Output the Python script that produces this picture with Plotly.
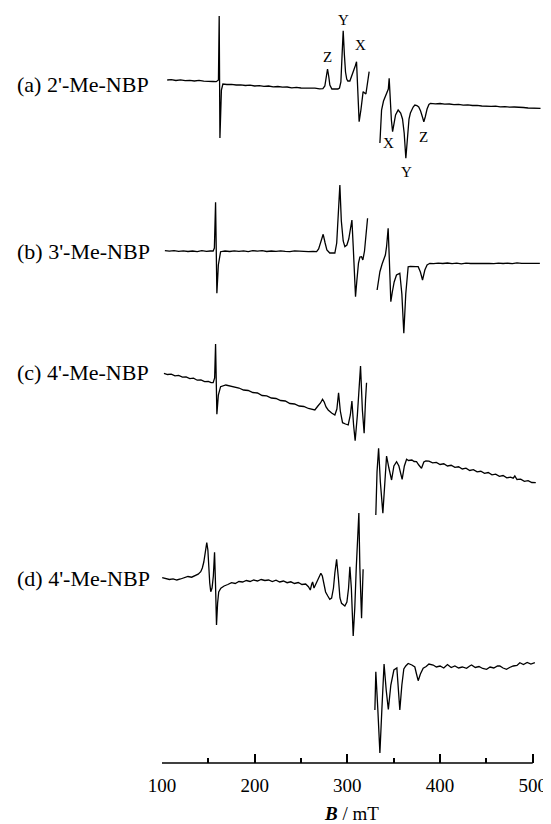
import plotly.graph_objects as go

# ---------------- data (B in mT, signal in arbitrary units) ----------------
a1_B = [105.6, 110, 115, 120, 125, 130, 135, 140, 145, 150, 155, 158.5, 160.9, 161.7, 162.5, 164.1, 165.7,
        170, 175, 180, 185, 190, 195, 200, 205, 210, 215, 220, 225, 230, 235, 240, 245, 250, 255, 260, 265, 270,
        273.6, 275.7, 277.2, 278.6, 280, 281.1, 283.3, 286, 289.8, 291.5, 293, 294.3, 295.5, 296.8, 298, 299.3,
        300.5, 302.7, 304, 306.5, 308.5, 309.9, 311.3, 312.7, 314.6, 317, 320, 321.8, 323.5]
a1_I = [0, 0.3, -0.5, 0.2, -0.6, -0.3, -1, -0.4, -1.2, -1, -1.5, -1.7, 0, 64, -58, -10, -4,
        -4.5, -4.3, -5, -4.8, -5.5, -5.2, -6, -5.7, -6.3, -6, -6.8, -6.5, -7.2, -7, -7.8, -7.4, -8, -7.9, -8.5, -8.2, -8.8,
        -8.7, -6, 1, 11, 3, -5, -9, -9.2, -9, -8, -2, 25, 49.3, 25, 8, 1,
        -1, -1, 2, 8, 14, 18.3, -10, -41.7, -30, -11.7, -14, -4, 8.3]

a2_B = [335.1, 336.0, 336.9, 339, 341, 342.9, 344.2, 345.1, 346.2, 347.5, 348.8, 350.3, 352, 354.8, 357.5, 359.5,
        361.3, 363.1, 364.8, 366.5, 368, 369.3, 371, 372.8, 375, 377, 379, 381, 382.5, 384, 386, 388, 389.7,
        395, 400, 405, 410, 415, 420, 425, 430, 435, 440, 445, 450, 455, 460, 465, 470, 475, 480, 485, 490, 495,
        500, 505, 508.4]
a2_I = [-38, -20, -5, 4, 8, 11.7, 16, 26.7, 5, -15, -26.7, -18, -10, -5, -8, -14,
        -28, -53.3, -30, -14, -8, -5, -2, 0, -0.5, -2, -6, -12, -16.7, -12, -4, 0.5, 1.7,
        1.2, 1.5, 0.8, 1, 0.3, 0.6, -0.2, 0.1, -0.5, -0.3, -1, -0.8, -1.3, -1.2, -1.8, -1.6, -2.2, -2.0, -2.6, -2.5, -3,
        -2.9, -3.4, -3.3]

b1_B = [103.1, 108, 113, 118, 123, 128, 133, 138, 143, 148, 152, 155.2, 156.5, 157.8, 159.2, 160.8, 163.2,
        168, 173, 178, 183, 188, 193, 198, 203, 208, 213, 218, 223, 228, 233, 238, 243, 248, 253, 258, 263, 266.8,
        269, 271, 273.9, 276, 277.9, 281, 286.5, 288.5, 290.3, 291.9, 293.5, 295.5, 297.3, 299.5, 301.5, 303.5,
        304.9, 306.3, 307.6, 308.8, 310.2, 312, 313.5, 315.3, 316.7, 318.5, 320, 321.8]
b1_I = [0.3, -0.2, 0.4, -0.3, 0.2, -0.5, 0, -0.6, 0.3, -0.4, 0, 0, 3, 48.7, -42.3, -14, -0.7,
        0, -0.5, 0.2, -0.3, 0.1, -0.6, 0.4, -0.2, 0.3, -0.5, 0, -0.4, 0.2, -0.3, -0.6, 0.1, -0.4, -0.2, -0.7, -0.5, -0.7,
        2, 8, 16.7, 8, 1, -2, -2, 8, 40, 66, 30, 10, 4.3, 6, 12, 22,
        31, 5, -25, -45.7, -30, -12, -6, -5.7, -9, 0, 15, 32.7]

b2_B = [332.1, 335.1, 337.5, 339.4, 341, 342.3, 344.0, 345.3, 346.9, 348.5, 350.5, 353, 356.6, 358.8, 360.9,
        363, 365.6, 368, 371, 374, 376.4, 378.8, 381.1, 383.6, 386, 389.0, 393, 398, 403, 408, 413, 418, 423,
        428, 433, 438, 443, 448, 453, 458, 463, 468, 473, 478, 483, 488, 493, 498, 503, 507.7]
b2_I = [-26, -7.7, 0, 4, 9, 17.3, 35.7, 4, -37.7, -28, -18, -11, -9.3, -30, -69.3,
        -30, -2.7, -2.4, -2.8, -2.6, -2.7, -8, -16, -6, -1, 0.7, 0.3, 0.9, 0.5, 1, 0.4, 0.8, 0.2,
        0.9, 0.5, 0.7, 0.3, 1, 0.6, 0.4, 0.9, 0.5, 0.8, 0.3, 1.2, 0.6, 0.7, 0.4, 0.8, 0.7]

c1_B = [102.1, 106, 110, 114, 118, 122, 126, 130, 134, 138, 142, 146, 150, 153, 155.2, 156.8, 157.8, 159.2,
        160.8, 163.2, 168.9, 173, 178, 183, 188, 193, 198, 203, 208, 213, 218, 223, 228, 233, 238, 243, 248, 253,
        258, 262, 264.9, 268.2, 271, 273.2, 275, 277, 279.3, 283, 286.5, 288.7, 290.5, 292.4, 294.8, 298, 300.9,
        303.2, 304.9, 306.7, 308.4, 310.8, 312.9, 314.2, 316.2, 318.1, 319.6, 320.7]
c1_I = [-0.3, -1.5, -1.2, -2.8, -2.4, -4.2, -3.8, -5.7, -5.2, -7.2, -6.8, -8.6, -8.3, -9.6, -9.7, -5, 29, -41.3,
        -22, -13.7, -12, -13, -14.5, -15, -17, -17.5, -19.5, -20, -22.5, -22.8, -25, -25.5, -27.5, -28, -30.5, -31, -33, -33.5,
        -35.5, -36, -37, -33, -30, -26.3, -29, -34, -37, -40, -42, -36, -19.7, -38, -49.7, -51, -52,
        -42, -28, -52, -67.7, -42, -7, 7, -37, -60.3, -27, -9.7]

c2_B = [330.7, 332.0, 333.7, 335.6, 338.3, 340.5, 342.3, 344.8, 347.7, 350.2, 353.1, 355.6, 359.1, 361.5, 363.9,
        366, 369.6, 372, 374.6, 377.1, 380.0, 382.5, 384.7, 388, 392, 396, 400, 404, 408, 412, 416, 420, 424, 428,
        432, 436, 440, 444, 448, 452, 456, 460, 464, 468, 472, 476, 478.9, 480.7, 483, 487, 491, 495, 499, 503.3]
c2_I = [-53, -10, 13.7, -20, -51.3, -13, 6, -6, -18, -4, 0.3, -4, -17.3, -4, 2.7,
        1.5, 2, 0.5, 0.3, -3, -6.3, 0, 1, 0.9, -0.8, -0.4, -2.5, -1.8, -4, -3.3, -5.4, -4.8, -7, -6.2,
        -8.5, -7.6, -9.9, -9.3, -11.4, -10.5, -12.8, -12.1, -14.3, -13.5, -15.8, -15.2, -16.2, -14, -17.5, -17.2, -19.3, -18.6, -20.5, -20.7]

d1_B = [100.2, 104, 108, 112, 116, 120, 124, 128, 132, 136, 139, 141.8, 143.5, 145.1, 146.8, 148.3, 149.5,
        150.5, 151.5, 152.6, 154, 155.4, 156.7, 157.7, 158.8, 160, 161.2, 163.5, 167, 171, 175, 179, 183, 187,
        191, 195, 199, 203, 207, 211, 215, 219, 223, 227, 231, 235, 239, 243, 247, 251, 255, 258, 260, 261.5,
        262.5, 264, 266, 268.2, 271.4, 273, 274.7, 276.5, 278.9, 281, 283, 285, 286.5, 288.4, 290.3, 292, 293.7,
        297.3, 299.5, 301.3, 302.7, 304.3, 306.3, 308, 309.6, 310.8, 312.4, 313.5, 315.3, 317.0]
d1_I = [0.3, -0.5, -1.5, -0.8, -2, -1, 0.5, 1.5, 0.8, 2.5, 3.8, 6.3, 10, 16, 26, 35.3, 28,
        8, -5, -13.7, -10, 2, 25.7, -5, -47, -25, -14, -10.3, -8, -6.5, -4.7, -5.5, -3.5, -4,
        -2.5, -3.5, -2, -3, -1.5, -2.5, -2, -3.5, -2.2, -4, -3, -4.7, -3.8, -5.5, -4.5, -6.5, -6, -8.7, -12, -6.3,
        -4, -10, -6, 0, 4.7, 2, -7, -14, -18, -21.3, -20, -10, 5, 18.7, 0, -20, -25.3,
        -28, -24, -10, 11.3, -10, -58, -30, 10, 40, 65, 10, -40.3, 8.7]

d2_B = [329.7, 330.7, 332.9, 335.1, 337.2, 339.6, 341.9, 344.2, 346.9, 350.2, 353.4, 355.2, 356.6, 358.8,
        360.9, 363, 365.6, 369.6, 372.8, 374.6, 376.4, 378.8, 381.8, 385, 388, 392.6, 396, 400, 404, 408, 412,
        416, 420, 424, 428.6, 432, 434, 438, 442, 446, 450.2, 454, 458, 462, 464.5, 468, 471.7, 475, 479, 483,
        486.1, 490, 494, 498, 502.3]
d2_I = [-45, -6.7, -45, -88, -45, 1, -25, -44.5, -20, -5, -3, -25, -45, -20,
        -4, -1, 1.5, 0, -2, -9, -15.7, -9, -3.3, -1.5, 1, 0, -2, -1, -3, 0.5, -2.5,
        -1, -3, -2, -3.3, -1, 0, -2.5, -1.5, -3.5, -4.3, -2, -3, -1, -1, -3, -4.3, -2.5, -1, -0.5,
        2.3, 0.5, 2.5, 1, 2.3]

sample_labels = ["(a) 2'-Me-NBP", "(b) 3'-Me-NBP", "(c) 4'-Me-NBP", "(d) 4'-Me-NBP"]
tick_vals = [100, 200, 300, 400, 500]
tick_text = ["100", "200", "300", "400", "500"]
minor_vals = [150, 250, 350, 450]
axis_span = [100, 500]

# ---------------- layout positions (vertical offsets of each trace) ----------------
segments = [
    (a1_B, a1_I, 683), (a2_B, a2_I, 658),
    (b1_B, b1_I, 512), (b2_B, b2_I, 499),
    (c1_B, c1_I, 390), (c2_B, c2_I, 301),
    (d1_B, d1_I, 185), (d2_B, d2_I, 98),
]
label_y = [679, 512, 391, 185]

fig = go.Figure()
for B, I, off in segments:
    fig.add_trace(go.Scatter(x=B, y=[off + v for v in I], mode="lines",
                             line=dict(color="black", width=1.3),
                             showlegend=False, hoverinfo="skip"))

serif = "Liberation Serif, Times New Roman, serif"
PLOT_W = 380
LEFT = 154
annotations = []
for txt, yy in zip(sample_labels, label_y):
    annotations.append(dict(text=txt, x=(7 - LEFT) / PLOT_W, xref="paper", y=yy, yref="y",
                            xanchor="left", yanchor="middle", showarrow=False,
                            font=dict(family=serif, size=22, color="black")))
xyz = [("Z", 278.6, 706), ("Y", 296.2, 743), ("X", 314.2, 718),
       ("X", 344.8, 620), ("Y", 363.9, 591), ("Z", 382.5, 626)]
for t, bx, yy in xyz:
    annotations.append(dict(text=t, x=bx, y=yy, xref="x", yref="y", showarrow=False,
                            font=dict(family=serif, size=15, color="black")))

Y_LO, Y_HI = -6, 755
fig.add_shape(type="line", xref="x", yref="y", x0=axis_span[0], x1=axis_span[1], y0=0, y1=0,
              line=dict(color="black", width=1.5))

fig.update_layout(
    width=543, height=816,
    margin=dict(l=LEFT, r=543 - LEFT - PLOT_W, t=0, b=816 - (Y_HI - Y_LO)),
    paper_bgcolor="white", plot_bgcolor="white",
    xaxis=dict(range=[100, 510], anchor="free", position=(0 - Y_LO) / (Y_HI - Y_LO),
               showline=False, showgrid=False, zeroline=False,
               ticks="inside", ticklen=9, tickwidth=1.5, tickcolor="black",
               tickvals=tick_vals, ticktext=tick_text, ticklabelstandoff=9,
               tickfont=dict(family=serif, size=19, color="black"),
               minor=dict(tickvals=minor_vals, ticks="inside", ticklen=5,
                          tickwidth=1.5, tickcolor="black", showgrid=False),
               title=dict(text="<b><i>B</i></b> / mT", standoff=14,
                          font=dict(family=serif, size=19, color="black"))),
    yaxis=dict(range=[Y_LO, Y_HI], visible=False),
    annotations=annotations,
)

fig.write_html("out.html")
